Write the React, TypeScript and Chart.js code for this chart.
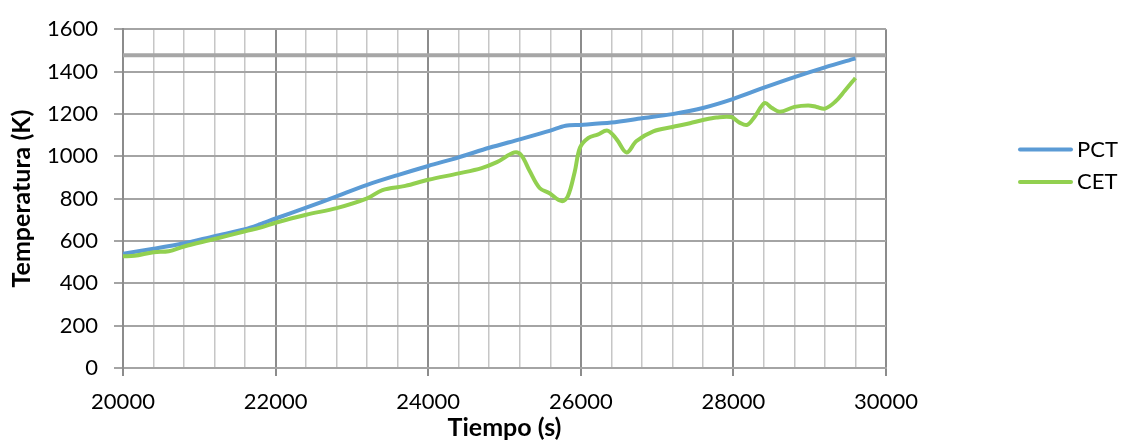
import React, { useEffect, useRef } from 'react';
import { Chart, registerables } from 'chart.js';

Chart.register(...registerables);

// Peak cladding temperature (PCT) over time
const pctTime = [20000, 20400, 20800, 21200, 21600, 21800, 22000, 22400, 22800, 23200, 23600, 24000, 24400, 24800, 25200, 25600, 25800, 26000, 26400, 26800, 27200, 27600, 28000, 28400, 28800, 29200, 29600];
const pctTemp = [540, 563, 589, 623, 655, 679, 706, 757, 811, 865, 911, 954, 995, 1040, 1080, 1121, 1144, 1148, 1159, 1179, 1199, 1228, 1271, 1324, 1374, 1420, 1462];

// Core exit temperature (CET) over time
const cetTime = [20000, 20150, 20400, 20600, 20800, 21200, 21600, 21800, 22000, 22400, 22800, 23200, 23400, 23700, 24000, 24400, 24700, 24900, 25130, 25220, 25330, 25460, 25590, 25750, 25830, 25920, 25990, 26100, 26220, 26350, 26470, 26600, 26730, 26950, 27200, 27430, 27600, 27780, 27970, 28080, 28180, 28280, 28410, 28500, 28610, 28800, 28980, 29090, 29200, 29330, 29460, 29600];
const cetTemp = [528, 530, 547, 551, 574, 609, 646, 663, 686, 724, 755, 801, 840, 860, 889, 919, 944, 972, 1018, 1005, 930, 850, 825, 788, 811, 926, 1041, 1087, 1102, 1121, 1080, 1018, 1072, 1118, 1138, 1156, 1171, 1183, 1185, 1159, 1148, 1187, 1251, 1229, 1210, 1233, 1240, 1233, 1225, 1256, 1309, 1370];

// Temperature limit
const limitTime = [20000, 30000];
const limitTemp = [1477, 1477];

// Axes
const xMin = 20000;
const xMax = 30000;
const xGridStep = 400;
const xLabelStep = 2000;
const yMin = 0;
const yMax = 1600;
const yStep = 200;

const seriesNames = ['PCT', 'CET'];
const xTitle = 'Tiempo (s)';
const yTitle = 'Temperatura (K)';

const toPoints = (xs: number[], ys: number[]) => xs.map((x, i) => ({ x, y: ys[i] }));

const FONT = 'Lato';
const BLUE = '#5b9bd5';
const GREEN = '#92d050';
const MAJOR = '#8c8c8c';
const MINOR = '#c6c6c6';
const HGRID = '#a4a4a4';

const sideLegend = {
  id: 'sideLegend',
  afterDraw(chart: any) {
    const { ctx } = chart;
    ctx.save();
    seriesNames.forEach((name, i) => {
      const ds = chart.data.datasets.find((d: any) => d.label === name);
      if (!ds) return;
      const y = 149.5 + i * 32.4;
      ctx.strokeStyle = ds.borderColor;
      ctx.lineWidth = 4;
      ctx.lineCap = 'round';
      ctx.beginPath();
      ctx.moveTo(1020, y);
      ctx.lineTo(1071, y);
      ctx.stroke();
      ctx.fillStyle = '#000';
      ctx.font = `22px ${FONT}`;
      ctx.textAlign = 'left';
      ctx.textBaseline = 'middle';
      ctx.fillText(name, 1077, y);
    });
    ctx.restore();
  },
};

export default function App() {
  const canvasRef = useRef<HTMLCanvasElement | null>(null);

  useEffect(() => {
    if (!canvasRef.current) return;
    const chart = new Chart(canvasRef.current, {
      type: 'line',
      data: {
        datasets: [
          {
            label: 'CET',
            data: toPoints(cetTime, cetTemp),
            borderColor: GREEN,
            backgroundColor: GREEN,
            borderWidth: 4,
            pointRadius: 0,
            tension: 0.35,
            order: 1,
          },
          {
            label: 'PCT',
            data: toPoints(pctTime, pctTemp),
            borderColor: BLUE,
            backgroundColor: BLUE,
            borderWidth: 4,
            pointRadius: 0,
            tension: 0.3,
            order: 2,
          },
          {
            label: 'Límite',
            data: toPoints(limitTime, limitTemp),
            borderColor: '#a6a6a6',
            backgroundColor: '#a6a6a6',
            borderWidth: 4,
            pointRadius: 0,
            tension: 0,
            order: 3,
          },
        ],
      },
      options: {
        animation: false,
        responsive: false,
        events: [],
        layout: { padding: { left: 0, top: 20, right: 240, bottom: 0 } },
        plugins: {
          legend: { display: false },
          tooltip: { enabled: false },
        },
        scales: {
          x: {
            type: 'linear',
            min: xMin,
            max: xMax,
            afterFit: (s: any) => {
              s.height = 75;
            },
            border: { display: true, color: HGRID, width: 2 },
            grid: {
              color: (c: any) => (c.tick && c.tick.value % xLabelStep === 0 ? MAJOR : MINOR),
              lineWidth: (c: any) => (c.tick && c.tick.value % xLabelStep === 0 ? 2 : 1.5),
              tickColor: (c: any) => (c.tick && c.tick.value % xLabelStep === 0 ? MAJOR : 'rgba(0,0,0,0)'),
              tickLength: 8,
              tickWidth: 2,
            },
            ticks: {
              stepSize: xGridStep,
              autoSkip: false,
              maxRotation: 0,
              padding: 13,
              color: '#000',
              font: { family: FONT, size: 22 },
              callback: (v: any) => (Number(v) % xLabelStep === 0 ? String(v) : ''),
            },
            title: {
              display: true,
              text: xTitle,
              color: '#000',
              font: { family: FONT, size: 25, weight: 'bold' },
              padding: { top: 0, bottom: 0 },
            },
          },
          y: {
            min: yMin,
            max: yMax,
            afterFit: (s: any) => {
              s.width = 123;
            },
            border: { display: true, color: MAJOR, width: 2 },
            grid: {
              color: HGRID,
              lineWidth: 2,
              tickLength: 9,
              tickColor: HGRID,
            },
            ticks: {
              stepSize: yStep,
              padding: 16,
              color: '#000',
              font: { family: FONT, size: 22 },
              callback: (v: any) => String(v),
            },
            title: {
              display: true,
              text: yTitle,
              color: '#000',
              font: { family: FONT, size: 25, weight: 'bold' },
              padding: { top: 7, bottom: 0 },
            },
          },
        },
      },
      plugins: [sideLegend],
    });
    return () => chart.destroy();
  }, []);

  return (
    <div style={{ position: 'fixed', left: 0, top: 0, width: 1126, height: 443, background: '#fff' }}>
      <canvas ref={canvasRef} width={1126} height={443} style={{ display: 'block' }} />
    </div>
  );
}
